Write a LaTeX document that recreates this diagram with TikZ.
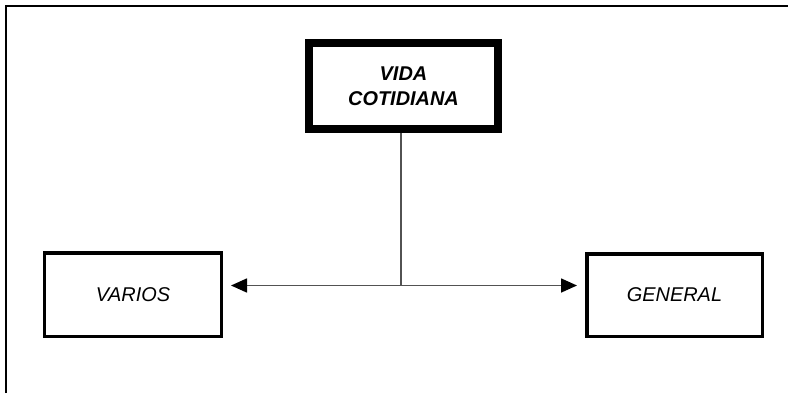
\documentclass[tikz,border=0pt]{standalone}
\usepackage{fontspec}
\setmainfont{Liberation Sans}
\usetikzlibrary{arrows.meta}
\tikzset{>=latex}
\tikzset{
  box/.style={draw, line width=3.5bp, align=center, font=\fontsize{20}{25}\selectfont\itshape},
  link/.style={draw=black!68, line width=1.6bp},
  tip/.tip={Triangle[length=16bp, width=14bp, black]}
}

\begin{document}
\begin{tikzpicture}[x=1bp, y=-1bp]
\useasboundingbox (0,0) rectangle (788,393);
\draw [line width=2.5bp] (6,393) -- (6,6) -- (788,6);
\node [box, line width=8bp, minimum width=189bp, minimum height=86bp, font=\fontsize{20}{25}\selectfont\bfseries\itshape] (vida) at (403.5,86) {VIDA\\COTIDIANA};
\node [box, minimum width=176.5bp, minimum height=83.5bp] (varios) at (133,294.5) {VARIOS};
\node [box, minimum width=175.5bp, minimum height=82.5bp] (general) at (674.5,295) {GENERAL};
\coordinate (hub) at (401,285.5);
\draw [link] (vida.south -| hub) -- (hub);
\draw [link, tip-tip, shorten <=8bp, shorten >=8bp] (varios.east |- hub) -- (general.west |- hub);
\end{tikzpicture}
\end{document}
